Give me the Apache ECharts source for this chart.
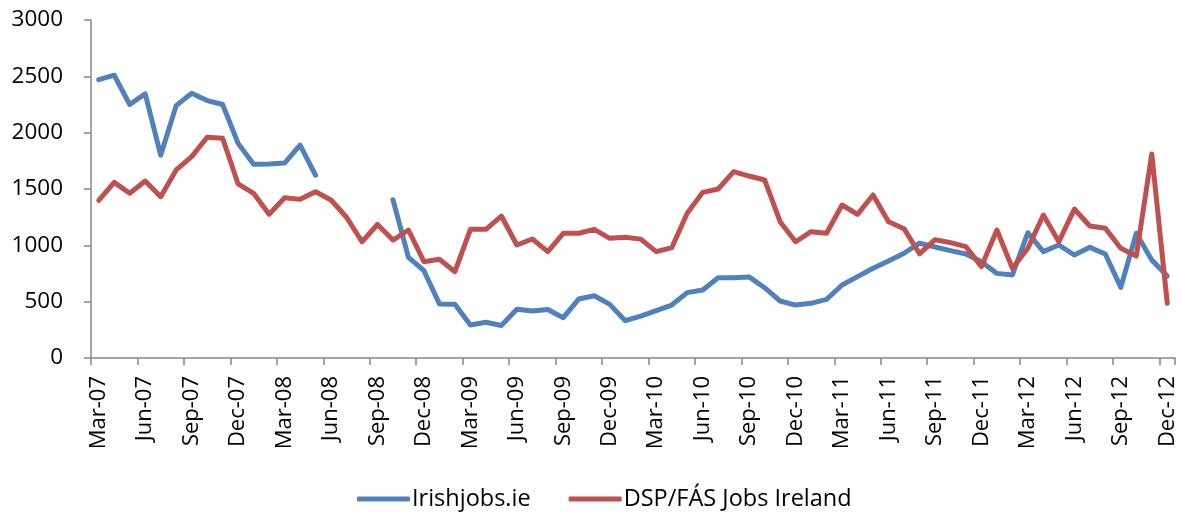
<!DOCTYPE html>
<html>
<head>
<meta charset="utf-8">
<script src="https://cdn.jsdelivr.net/npm/echarts@6/dist/echarts.min.js"></script>
<style>
  html, body { margin: 0; padding: 0; background: #fff; }
  #chart { width: 1183px; height: 512px; }
</style>
</head>
<body>
<div id="chart"></div>
<script>
// Monthly job vacancy counts, Mar 2007 – Dec 2012
const months = [
  'Mar-07','Apr-07','May-07','Jun-07','Jul-07','Aug-07','Sep-07','Oct-07','Nov-07','Dec-07',
  'Jan-08','Feb-08','Mar-08','Apr-08','May-08','Jun-08','Jul-08','Aug-08','Sep-08','Oct-08','Nov-08','Dec-08',
  'Jan-09','Feb-09','Mar-09','Apr-09','May-09','Jun-09','Jul-09','Aug-09','Sep-09','Oct-09','Nov-09','Dec-09',
  'Jan-10','Feb-10','Mar-10','Apr-10','May-10','Jun-10','Jul-10','Aug-10','Sep-10','Oct-10','Nov-10','Dec-10',
  'Jan-11','Feb-11','Mar-11','Apr-11','May-11','Jun-11','Jul-11','Aug-11','Sep-11','Oct-11','Nov-11','Dec-11',
  'Jan-12','Feb-12','Mar-12','Apr-12','May-12','Jun-12','Jul-12','Aug-12','Sep-12','Oct-12','Nov-12','Dec-12'
];

const irishjobs = [
  2470, 2510, 2250, 2345, 1800, 2240, 2350, 2285, 2250, 1905,
  1720, 1722, 1730, 1890, 1622, null, null, null, null, 1405, 894, 775,
  480, 478, 293, 317, 288, 432, 417, 430, 358, 524, 553, 476,
  331, 372, 420, 470, 580, 604, 713, 713, 720, 624, 506, 470,
  485, 521, 648, 722, 796, 862, 930, 1020, 985, 953, 923, 855,
  751, 737, 1112, 944, 1003, 914, 982, 923, 627, 1107, 870, 728
];

const dspFas = [
  1400, 1559, 1462, 1571, 1432, 1669, 1787, 1959, 1950, 1545,
  1462, 1275, 1423, 1408, 1476, 1402, 1249, 1032, 1185, 1047, 1136, 855,
  876, 766, 1142, 1142, 1260, 1003, 1056, 944, 1107, 1107, 1142, 1062,
  1071, 1055, 944, 979, 1284, 1470, 1500, 1654, 1615, 1580, 1210, 1032,
  1121, 1107, 1358, 1275, 1447, 1210, 1148, 925, 1050, 1024, 988, 811,
  1136, 796, 974, 1269, 1032, 1322, 1172, 1151, 974, 905, 1811, 485
];

const yTicks = { min: 0, max: 3000, step: 500 };

const FONT = '"Open Sans", "Liberation Sans", sans-serif';
const AXIS_GREY = '#868686';

const chart = echarts.init(document.getElementById('chart'), null, { renderer: 'canvas' });

function lineSeries(name, data, color) {
  return {
    name: name,
    type: 'line',
    data: data,
    symbol: 'none',
    connectNulls: false,
    animation: false,
    lineStyle: { color: color, width: 5, cap: 'round', join: 'round' },
    itemStyle: { color: color }
  };
}

chart.setOption({
  animation: false,
  textStyle: { fontFamily: FONT },
  grid: { left: 91, right: 8, top: 20, bottom: 154, containLabel: false },
  legend: {
    left: 352,
    top: 482,
    icon: 'roundRect',
    itemWidth: 53,
    itemHeight: 5,
    itemGap: 38,
    textStyle: { fontFamily: FONT, fontSize: 23.5, color: '#000', padding: [0, 0, 0, -3] },
    data: ['Irishjobs.ie', 'DSP/FÁS Jobs Ireland']
  },
  xAxis: {
    type: 'category',
    data: months,
    boundaryGap: true,
    axisLine: { lineStyle: { color: AXIS_GREY, width: 1.5 } },
    axisTick: { show: true, interval: 2, length: 7, lineStyle: { color: AXIS_GREY, width: 1.5 } },
    axisLabel: {
      interval: 2,
      rotate: 90,
      margin: 18,
      fontFamily: FONT,
      fontSize: 22,
      color: '#000'
    },
    splitLine: { show: false }
  },
  yAxis: {
    type: 'value',
    min: yTicks.min,
    max: yTicks.max,
    interval: yTicks.step,
    axisLine: { show: true, lineStyle: { color: AXIS_GREY, width: 1.5 } },
    axisTick: { show: true, length: 7, lineStyle: { color: AXIS_GREY, width: 1.5 } },
    axisLabel: {
      margin: 28,
      fontFamily: FONT,
      fontSize: 22.5,
      color: '#000',
      formatter: function (v) { return String(v); }
    },
    splitLine: { show: false }
  },
  series: [
    lineSeries('Irishjobs.ie', irishjobs, '#4F81BD'),
    lineSeries('DSP/FÁS Jobs Ireland', dspFas, '#C0504D')
  ]
});
</script>
</body>
</html>
